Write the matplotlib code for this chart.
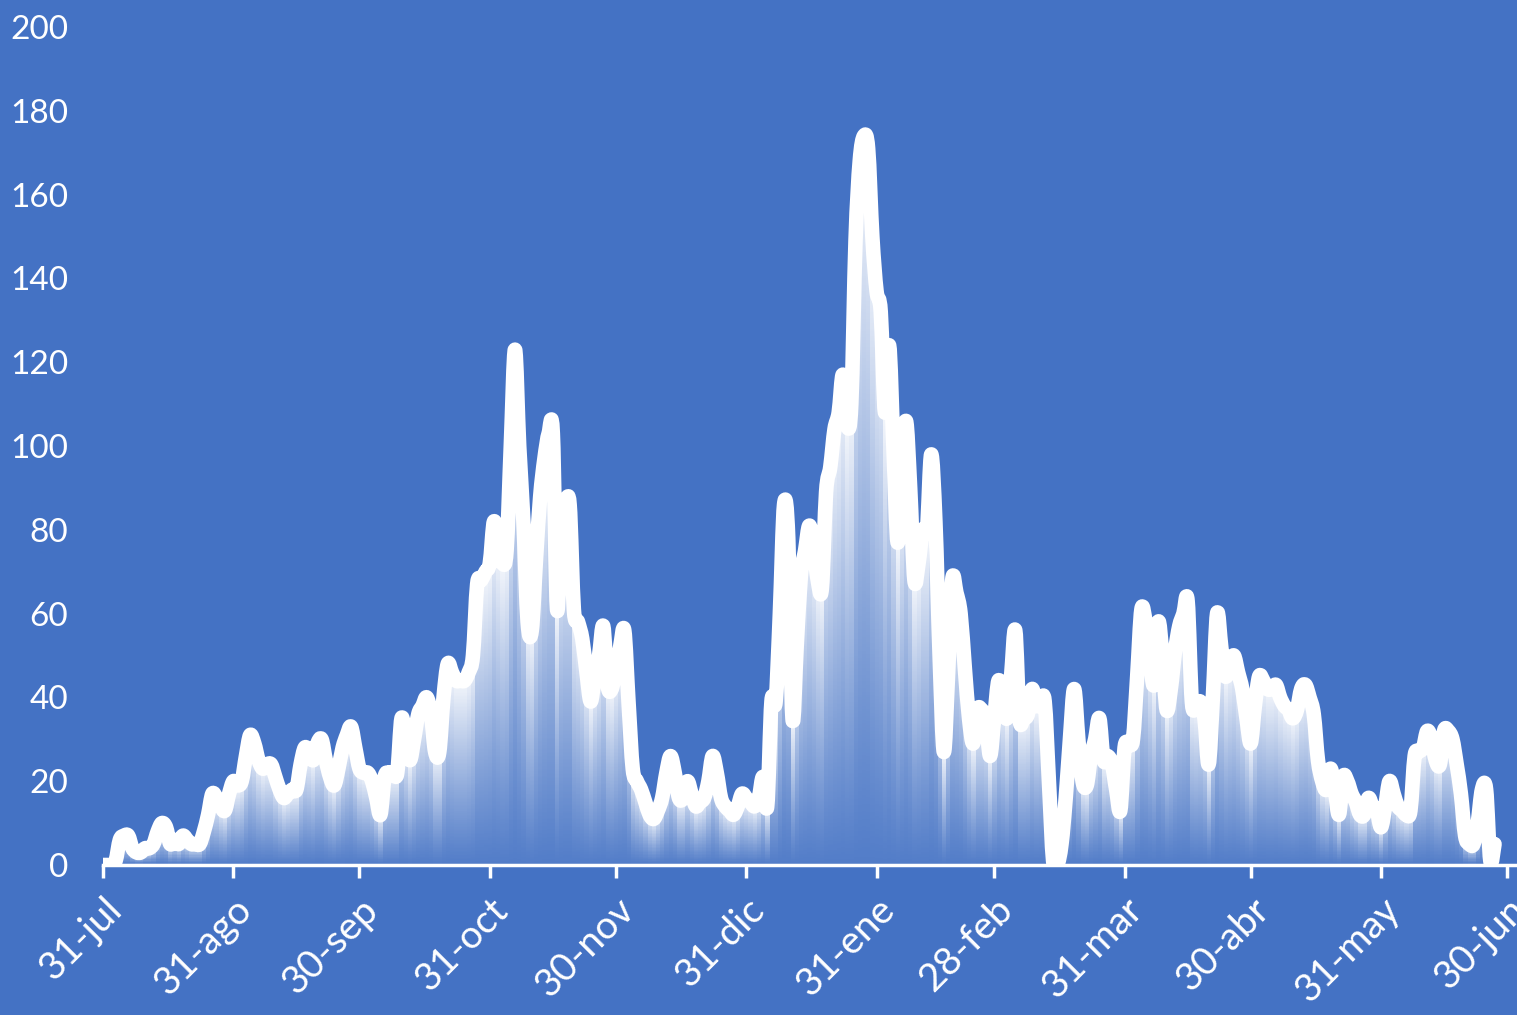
import numpy as np
import pandas as pd
import matplotlib
matplotlib.use("Agg")
import matplotlib.pyplot as plt
import matplotlib.dates as mdates
from matplotlib.path import Path
from matplotlib.patches import PathPatch

# daily values, starting 31-jul
start_date = "2020-07-31"
values = [
    0, 0, 0, 1, 6, 7, 7, 4, 3, 3,
    4, 4, 5, 8, 10, 9, 5, 6, 5, 7,
    6, 5, 5, 5, 8, 12, 17, 16, 14, 13,
    17, 20, 19, 20, 26, 31, 29, 25, 23, 24,
    24, 21, 18, 16, 17, 18, 18, 24, 28, 27,
    25, 29, 30, 25, 21, 19, 23, 28, 31, 33,
    28, 23, 22, 22, 20, 16, 12, 21, 22, 22,
    22, 35, 30, 25, 30, 36, 38, 40, 36, 27,
    27, 40, 48, 46, 44, 44, 44, 46, 50, 67,
    68, 70, 72, 82, 76, 72, 75, 100, 123, 100,
    82, 58, 56, 73, 88, 97, 103, 103, 61, 82,
    86, 86, 61, 58, 54, 46, 39, 45, 50, 57,
    43, 42, 47, 52, 56, 39, 23, 20, 18, 15,
    12, 11, 13, 16, 22, 26, 22, 16, 16, 20,
    17, 14, 15, 16, 20, 26, 22, 16, 14, 13,
    12, 14, 17, 16, 15, 14, 16, 21, 14, 39,
    39, 60, 86, 78, 35, 52, 69, 75, 81, 76,
    68, 66, 89, 95, 104, 108, 117, 105, 110, 149,
    168, 174, 171, 150, 137, 132, 108, 124, 100, 77,
    92, 106, 90, 68, 72, 80, 80, 98, 82, 50,
    27, 45, 68, 65, 60, 47, 35, 29, 37, 37,
    35, 26, 35, 44, 40, 35, 45, 56, 35, 35,
    36, 42, 38, 39, 39, 20, 1, 0, 5, 16,
    30, 42, 30, 20, 19, 26, 30, 35, 25, 26,
    24, 18, 13, 28, 29, 30, 45, 61, 58, 50,
    43, 58, 50, 37, 42, 51, 57, 60, 63, 39,
    38, 39, 35, 24, 40, 60, 52, 45, 48, 50,
    46, 42, 35, 29, 38, 45, 44, 42, 42, 43,
    40, 38, 37, 35, 37, 42, 43, 40, 36, 25,
    20, 18, 23, 18, 12, 21, 20, 17, 15, 12,
    12, 16, 14, 13, 9, 14, 20, 17, 14, 13,
    12, 13, 26, 27, 28, 32, 30, 25, 24, 32,
    32, 30, 24, 17, 7, 5, 5, 10, 18, 18,
    1, 5,
]
tick_dates = ["2020-07-31", "2020-08-31", "2020-09-30", "2020-10-31", "2020-11-30",
              "2020-12-31", "2021-01-31", "2021-02-28", "2021-03-31", "2021-04-30",
              "2021-05-31", "2021-06-30"]
tick_labels = ["31-jul", "31-ago", "30-sep", "31-oct", "30-nov", "31-dic",
               "31-ene", "28-feb", "31-mar", "30-abr", "31-may", "30-jun"]
y_ticks = list(range(0, 201, 20))

bg = "#4472C4"
plt.rcParams["font.family"] = ["Lato", "DejaVu Sans"]

dates = pd.date_range(start_date, periods=len(values), freq="D")
x = mdates.date2num(dates)
v = np.array(values, dtype=float)

fig = plt.figure(figsize=(15.17, 10.15), dpi=100, facecolor=bg)
ax = fig.add_axes([103 / 1517, 150 / 1015, 1414 / 1517, 838 / 1015])
ax.set_facecolor(bg)

x0 = x[0]
x_right = x0 + (1517 - 103) / 4.204
ax.set_xlim(x0, x_right)
ax.set_ylim(0, 200)

# gradient columns under the line (one per day, white at top fading to blue)
ny = 600
yy = np.linspace(0, 200, ny)
rgba = np.zeros((ny, len(v), 4))
rgba[..., :3] = 1.0
frac = np.where(v[None, :] > 0, yy[:, None] / np.maximum(v[None, :], 1e-9), 2)
alpha = np.where(frac <= 1, 0.08 + 0.87 * np.clip(frac, 0, 1) ** 1.1, 0)
rgba[..., 3] = alpha
ax.imshow(rgba, origin="lower", aspect="auto", interpolation="nearest",
          extent=(x[0] - 0.5, x[-1] + 0.5, 0, 200), zorder=1)

# smoothed white line (Catmull-Rom style bezier through the points)
pts = np.column_stack([x, v])
verts = [pts[0]]
codes = [Path.MOVETO]
n = len(pts)
for i in range(n - 1):
    p0 = pts[max(i - 1, 0)]
    p1 = pts[i]
    p2 = pts[i + 1]
    p3 = pts[min(i + 2, n - 1)]
    c1 = p1 + (p2 - p0) / 6.0
    c2 = p2 - (p3 - p1) / 6.0
    verts += [c1, c2, p2]
    codes += [Path.CURVE4] * 3
line = PathPatch(Path(verts, codes), facecolor="none", edgecolor="white",
                 lw=10.5, joinstyle="round", capstyle="round", zorder=3)
ax.add_patch(line)

# axes styling
for s in ["left", "top", "right"]:
    ax.spines[s].set_visible(False)
ax.spines["bottom"].set_color("white")
ax.spines["bottom"].set_linewidth(2.5)
ax.spines["bottom"].set_zorder(2)

ax.set_yticks(y_ticks)
ax.set_yticklabels([str(t) for t in y_ticks])
ax.tick_params(axis="y", length=0, pad=25, labelsize=24, labelcolor="white")

ax.set_xticks(mdates.date2num(pd.to_datetime(tick_dates)))
ax.set_xticklabels(tick_labels, rotation=45, ha="right", rotation_mode="anchor")
ax.tick_params(axis="x", direction="out", length=9, width=2.5, color="white",
               labelsize=28, labelcolor="white", pad=10)

plt.savefig("out.png", dpi=100, facecolor=bg)
